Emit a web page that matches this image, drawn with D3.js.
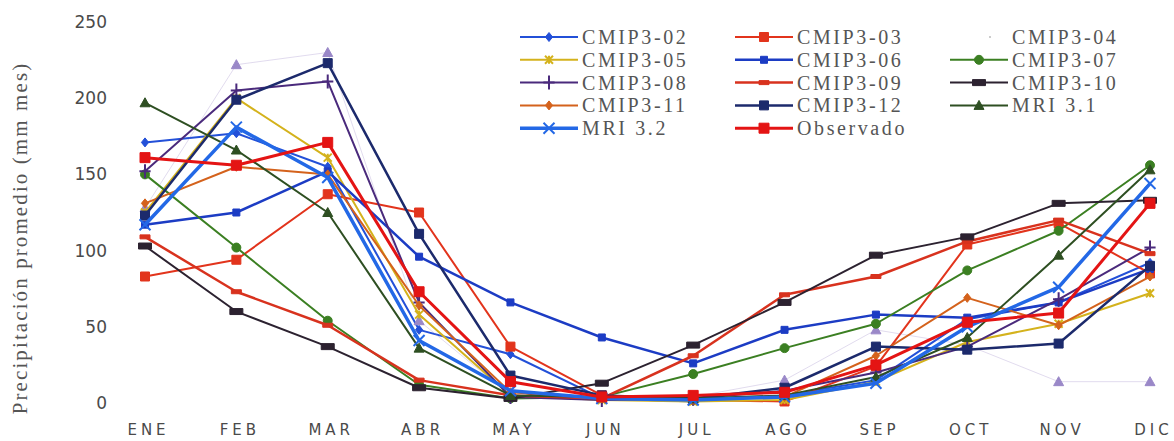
<!DOCTYPE html>
<html>
<head>
<meta charset="utf-8">
<script src="https://cdn.jsdelivr.net/npm/d3@7"></script>
<style>
  html, body { margin: 0; padding: 0; background: #ffffff; }
  svg { display: block; }
  .serif { font-family: "Liberation Serif", "Times New Roman", Times, "DejaVu Serif", serif; }
  .sans { font-family: "DejaVu Sans", "Liberation Sans", sans-serif; }
</style>
</head>
<body>
<svg id="chart" width="1174" height="441"></svg>
<script>
// Monthly average precipitation (mm/mes): climate model runs vs. observed
const months = ["ENE", "FEB", "MAR", "ABR", "MAY", "JUN", "JUL", "AGO", "SEP", "OCT", "NOV", "DIC"];
const yTicks = [0, 50, 100, 150, 200, 250];

const cmip3_02 = [171, 177, 155, 48, 32, 3, 1, 5, 15, 55, 66, 92];
const cmip3_03 = [83, 94, 137, 125, 37, 5, 2, 1, 24, 104, 118, 85];
const cmip3_04 = [128, 222, 230, 54, 5, 3, 4, 15, 48, 38, 14, 14];
const cmip3_05 = [125, 200, 161, 58, 5, 2, 1, 2, 14, 40, 52, 72];
const cmip3_06 = [117, 125, 152, 96, 66, 43, 26, 48, 58, 56, 66, 88];
const cmip3_07 = [150, 102, 54, 12, 3, 4, 19, 36, 52, 87, 113, 156];
const cmip3_08 = [152, 205, 211, 66, 4, 2, 3, 8, 20, 37, 68, 102];
const cmip3_09 = [109, 73, 51, 15, 5, 3, 31, 71, 83, 106, 120, 98];
const cmip3_10 = [103, 60, 37, 10, 3, 13, 38, 66, 97, 109, 131, 133];
const cmip3_11 = [131, 155, 150, 64, 7, 3, 2, 4, 31, 69, 51, 83];
const cmip3_12 = [123, 199, 223, 111, 18, 5, 3, 10, 37, 35, 39, 90];
const mri31 = [197, 166, 125, 36, 5, 4, 3, 5, 17, 43, 97, 153];
const mri32 = [117, 181, 148, 41, 8, 3, 2, 4, 13, 50, 76, 144];
const observado = [161, 156, 171, 73, 14, 4, 5, 7, 25, 53, 59, 131];

const seriesNames = ["CMIP3-02", "CMIP3-03", "CMIP3-04", "CMIP3-05", "CMIP3-06", "CMIP3-07",
  "CMIP3-08", "CMIP3-09", "CMIP3-10", "CMIP3-11", "CMIP3-12", "MRI 3.1", "MRI 3.2", "Observado"];
const seriesValues = [cmip3_02, cmip3_03, cmip3_04, cmip3_05, cmip3_06, cmip3_07,
  cmip3_08, cmip3_09, cmip3_10, cmip3_11, cmip3_12, mri31, mri32, observado];

// Line / marker style for each series, in legend order
const styles = [
  { color: "#2350d8", width: 2,   marker: "diamond",  msize: 9 },
  { color: "#e2341c", width: 2,   marker: "square",   msize: 9 },
  { color: "#9a88c8", width: 1,   marker: "triangle", msize: 10, faint: true },
  { color: "#d4b21c", width: 2,   marker: "star",     msize: 8 },
  { color: "#1c3cc4", width: 2.5, marker: "square",   msize: 7 },
  { color: "#3b7f22", width: 2,   marker: "circle",   msize: 9 },
  { color: "#4a2a7c", width: 2,   marker: "plus",     msize: 14 },
  { color: "#d8321e", width: 2.5, marker: "dash",     msize: 10 },
  { color: "#2c2230", width: 2,   marker: "bar",      msize: 13 },
  { color: "#d4621c", width: 2,   marker: "diamond",  msize: 9 },
  { color: "#1c2a6c", width: 2.5, marker: "square",   msize: 9 },
  { color: "#2e4f22", width: 2,   marker: "triangle", msize: 10 },
  { color: "#2368e6", width: 3.5, marker: "cross",    msize: 11 },
  { color: "#e41414", width: 3,   marker: "square",   msize: 10 }
];

const svg = d3.select("#chart");

const x = d3.scalePoint().domain(months).range([145, 1150]);
const y = d3.scaleLinear().domain([0, 250]).range([403, 22]);

// Axes: labels only, no domain line or tick marks
const yAxis = svg.append("g")
  .attr("transform", "translate(107,0)")
  .call(d3.axisLeft(y).tickValues(yTicks).tickSize(0).tickPadding(0));
yAxis.select(".domain").remove();
yAxis.selectAll("text")
  .attr("fill", "#4a4a4a")
  .attr("class", "sans")
  .style("font-size", "17px");

const xAxis = svg.append("g")
  .attr("transform", "translate(0,424)")
  .call(d3.axisBottom(x).tickSize(0).tickPadding(0));
xAxis.select(".domain").remove();
xAxis.selectAll("text")
  .attr("fill", "#4a4a4a")
  .attr("class", "sans")
  .attr("dx", "0.2em")
  .style("font-size", "15px")
  .style("letter-spacing", "4px");
yAxis.attr("font-family", null);
xAxis.attr("font-family", null);

// Y axis title
svg.append("text")
  .attr("class", "serif")
  .attr("transform", "translate(27,238) rotate(-90)")
  .attr("text-anchor", "middle")
  .attr("fill", "#555")
  .style("font-size", "21px")
  .style("letter-spacing", "2.1px")
  .text("Precipitación promedio (mm mes)");

// Marker path generator
function markerPath(kind, s) {
  const h = s / 2;
  switch (kind) {
    case "diamond":  return `M0,${-h}L${h * 0.8},0L0,${h}L${-h * 0.8},0Z`;
    case "square":   return `M${-h},${-h}H${h}V${h}H${-h}Z`;
    case "triangle": return `M0,${-h}L${h},${h * 0.8}L${-h},${h * 0.8}Z`;
    case "circle":   return d3.symbol(d3.symbolCircle, s * s * 0.78)();
    case "plus":     return `M0,${-h}V${h}M${-h * 0.8},0H${h * 0.8}`;
    case "cross":    return `M${-h},${-h}L${h},${h}M${-h},${h}L${h},${-h}`;
    case "star":     return `M${-h},${-h}L${h},${h}M${-h},${h}L${h},${-h}M0,${-h}V${h}`;
    case "dash":     return `M${-h},-2H${h}V2H${-h}Z`;
    case "bar":      return `M${-h},-3H${h}V3H${-h}Z`;
  }
  return "";
}
const strokeMarkers = new Set(["plus", "cross", "star"]);

const line = d3.line()
  .x((d, i) => x(months[i]))
  .y(d => y(d));

const plot = svg.append("g");

seriesValues.forEach((vals, k) => {
  const st = styles[k];
  const g = plot.append("g").attr("class", "series");
  g.append("path")
    .datum(vals)
    .attr("d", line)
    .attr("fill", "none")
    .attr("stroke", st.color)
    .attr("stroke-width", st.width)
    .attr("stroke-opacity", st.faint ? 0.3 : 1)
    .attr("stroke-linejoin", "round");
  g.selectAll("path.mk")
    .data(vals)
    .join("path")
    .attr("class", "mk")
    .attr("transform", (d, i) => `translate(${x(months[i])},${y(d)})`)
    .attr("d", markerPath(st.marker, st.msize))
    .attr("fill", strokeMarkers.has(st.marker) ? "none" : st.color)
    .attr("stroke", st.color)
    .attr("stroke-width", strokeMarkers.has(st.marker) ? 2 : 1);
});

// Legend: three columns, five rows
const legend = svg.append("g");
const colX = [520, 735, 950];
const rowY0 = 37, rowDy = 22.8;
seriesNames.forEach((name, k) => {
  const st = styles[k];
  const col = k % 3, row = Math.floor(k / 3);
  const gx = colX[col], gy = rowY0 + row * rowDy;
  const item = legend.append("g").attr("transform", `translate(${gx},${gy})`);
  if (!st.faint) {
    item.append("line")
      .attr("x1", 0).attr("x2", 58)
      .attr("stroke", st.color)
      .attr("stroke-width", st.width);
    item.append("path")
      .attr("transform", "translate(29,0)")
      .attr("d", markerPath(st.marker, st.msize))
      .attr("fill", strokeMarkers.has(st.marker) ? "none" : st.color)
      .attr("stroke", st.color)
      .attr("stroke-width", strokeMarkers.has(st.marker) ? 2 : 1);
  } else {
    item.append("circle").attr("cx", 40).attr("r", 1).attr("fill", "#bbb");
  }
  item.append("text")
    .attr("class", "serif")
    .attr("x", 62)
    .attr("dy", "0.35em")
    .attr("fill", "#555")
    .style("font-size", "20px")
    .style("letter-spacing", "2.6px")
    .text(name);
});
</script>
</body>
</html>
